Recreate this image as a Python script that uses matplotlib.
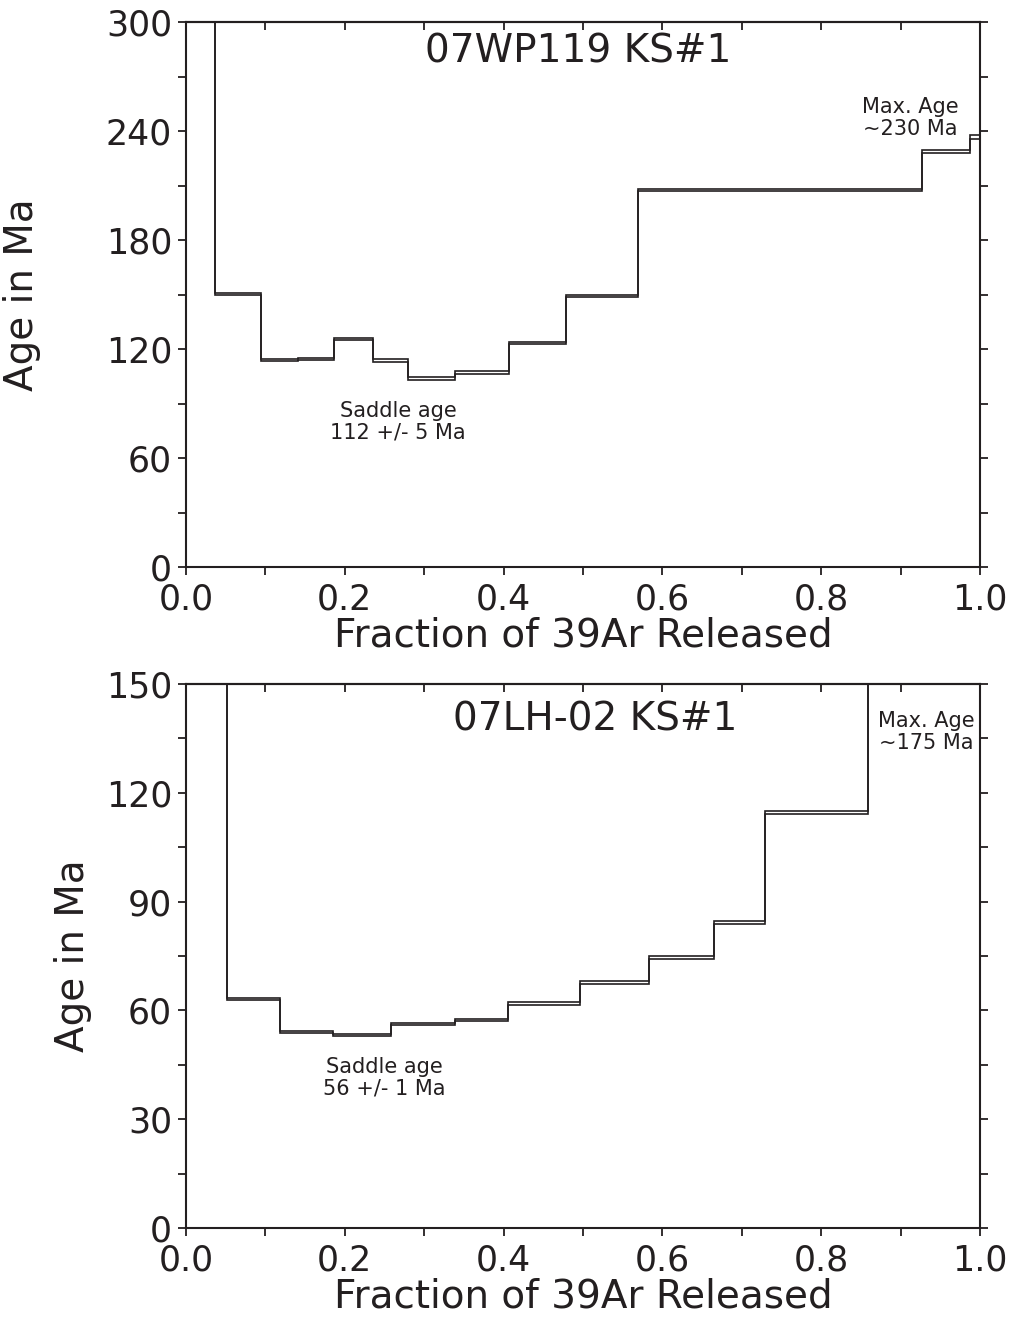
import numpy as np
import matplotlib
matplotlib.use("Agg")
import matplotlib.pyplot as plt
from matplotlib.ticker import MultipleLocator

plt.rcParams['font.family'] = ['DejaVu Sans']

# ---- Sample 07WP119 KS#1 ----
top_edges = [0.0, 0.036, 0.095, 0.141, 0.186, 0.235, 0.279, 0.339, 0.407, 0.478, 0.569, 0.927, 0.987, 1.0]
top_ages = [330, 150.2, 114.1, 114.5, 125.3, 113.7, 103.8, 107.1, 123.5, 149.0, 207.5, 228.6, 236.8]
top_err = [1.0, 0.6, 0.5, 0.5, 0.6, 0.6, 0.6, 0.6, 0.6, 0.6, 0.65, 0.9, 1.1]

# ---- Sample 07LH-02 KS#1 ----
bot_edges = [0.0, 0.052, 0.119, 0.185, 0.258, 0.339, 0.405, 0.496, 0.583, 0.665, 0.729, 0.859, 1.0]
bot_ages = [200, 63.2, 54.1, 53.3, 56.3, 57.4, 62.0, 67.8, 74.7, 84.3, 114.5, 175]
bot_err = [0.5, 0.3, 0.3, 0.3, 0.35, 0.35, 0.4, 0.4, 0.4, 0.4, 0.4, 0.5]

x_ticklabels = ["0.0", "0.2", "0.4", "0.6", "0.8", "1.0"]

fig = plt.figure(figsize=(10.13, 13.18), dpi=100)
ax1 = fig.add_axes([186/1013, 1-567/1318, 794/1013, 545/1318])
ax2 = fig.add_axes([186/1013, 1-1228/1318, 794/1013, 544/1318])

TICK_FS = 25
LABEL_FS = 28
TITLE_FS = 28
ANN_FS = 15
LINE_C = '#231f20'


def style(ax, ymax, ymaj, ymin):
    ax.set_xlim(0, 1)
    ax.set_ylim(0, ymax)
    ax.xaxis.set_minor_locator(MultipleLocator(0.1))
    ax.yaxis.set_major_locator(MultipleLocator(ymaj))
    ax.yaxis.set_minor_locator(MultipleLocator(ymin))
    ax.set_xticks(np.arange(0, 1.01, 0.2))
    ax.set_xticklabels(x_ticklabels)
    ax.tick_params(axis='both', which='both', direction='out', length=6,
                   width=1.3, color=LINE_C, labelsize=TICK_FS, labelcolor=LINE_C)
    ax.tick_params(axis='y', which='both', right=True, left=True, pad=4)
    ax.tick_params(axis='x', which='both', pad=5)
    for s in ax.spines.values():
        s.set_linewidth(1.5)
        s.set_color(LINE_C)
    sec = ax.secondary_xaxis('top')
    sec.xaxis.set_major_locator(MultipleLocator(0.1))
    sec.tick_params(axis='x', which='both', direction='in', length=6,
                    width=1.3, color=LINE_C, labeltop=False)
    sec.spines['top'].set_linewidth(1.5)
    sec.set_xticklabels([])
    ax.set_xlabel("Fraction of 39Ar Released", fontsize=LABEL_FS, color=LINE_C, labelpad=0)


def draw_steps(ax, edges, ages, err):
    ages = np.array(ages, dtype=float)
    err = np.array(err, dtype=float)
    ax.stairs(ages + err, edges, baseline=None, color=LINE_C, linewidth=1.2, clip_on=True)
    ax.stairs(ages - err, edges, baseline=None, color=LINE_C, linewidth=1.2, clip_on=True)


# top panel
style(ax1, 300, 60, 30)
draw_steps(ax1, top_edges, top_ages, top_err)
ax1.set_ylabel("Age in Ma", fontsize=LABEL_FS, color=LINE_C)
ax1.yaxis.set_label_coords(-0.183, 0.5)
ax1.text(0.494, 0.945, "07WP119 KS#1", transform=ax1.transAxes, fontsize=TITLE_FS,
         ha='center', va='center', color=LINE_C)
ax1.text(0.267, 0.266, "Saddle age\n112 +/- 5 Ma", transform=ax1.transAxes,
         fontsize=ANN_FS, ha='center', va='center', color=LINE_C, linespacing=1.1)
ax1.text(0.912, 0.824, "Max. Age\n~230 Ma", transform=ax1.transAxes,
         fontsize=ANN_FS, ha='center', va='center', color=LINE_C, linespacing=1.1)

# bottom panel
style(ax2, 150, 30, 15)
draw_steps(ax2, bot_edges, bot_ages, bot_err)
ax2.set_ylabel("Age in Ma", fontsize=LABEL_FS, color=LINE_C)
ax2.yaxis.set_label_coords(-0.118, 0.5)
ax2.text(0.515, 0.934, "07LH-02 KS#1", transform=ax2.transAxes, fontsize=TITLE_FS,
         ha='center', va='center', color=LINE_C)
ax2.text(0.250, 0.276, "Saddle age\n56 +/- 1 Ma", transform=ax2.transAxes,
         fontsize=ANN_FS, ha='center', va='center', color=LINE_C, linespacing=1.1)
ax2.text(0.932, 0.912, "Max. Age\n~175 Ma", transform=ax2.transAxes,
         fontsize=ANN_FS, ha='center', va='center', color=LINE_C, linespacing=1.1)

fig.savefig("out.png", dpi=100, facecolor='white')
